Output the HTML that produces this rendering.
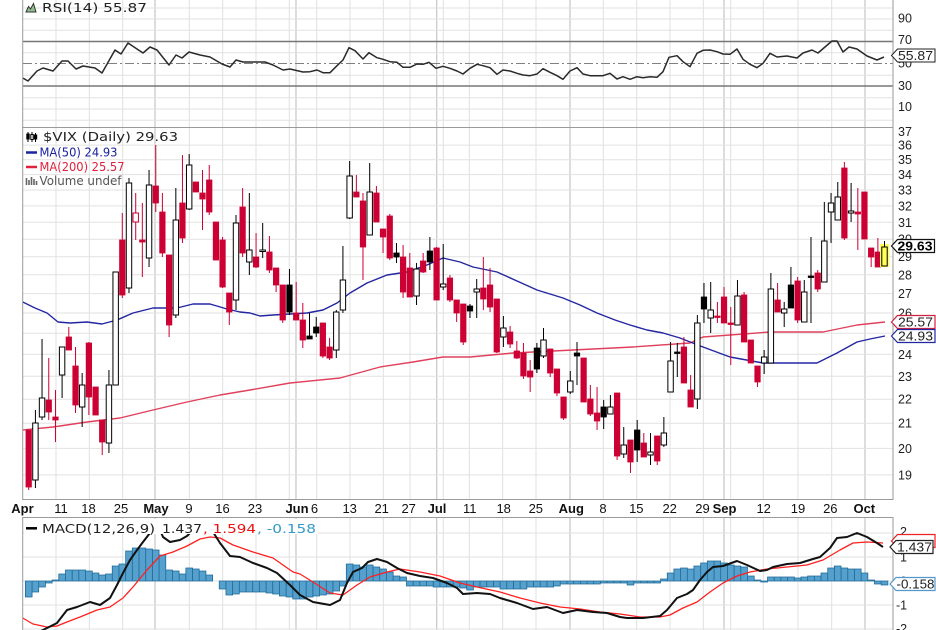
<!DOCTYPE html>
<html><head><meta charset="utf-8"><style>
html,body{margin:0;padding:0;background:#fff;}
svg{display:block;font-family:"Liberation Sans",Arial,sans-serif;}
.lg{font-family:"DejaVu Sans","Liberation Sans",sans-serif;}
</style></head><body>
<svg width="936" height="630" viewBox="0 0 936 630" xmlns="http://www.w3.org/2000/svg">
<defs>
<clipPath id="cm"><rect x="23" y="128" width="870" height="371"/></clipPath>
<clipPath id="cd"><rect x="23" y="518" width="870" height="112"/></clipPath>
<clipPath id="cr"><rect x="23" y="0" width="870" height="127"/></clipPath>
</defs>
<rect width="936" height="630" fill="#fff"/>

<!-- vertical gridlines -->
<path d="M56 0V630M89.3 0V630M122.7 0V630M189.3 0V630M222.7 0V630M256 0V630M289.3 0V630M316.7 0V630M350 0V630M383.3 0V630M410 0V630M443.3 0V630M469.3 0V630M502.7 0V630M536 0V630M603.3 0V630M636.7 0V630M670 0V630M703.3 0V630M730.7 0V630M763.3 0V630M798 0V630M831.7 0V630" stroke="#e0e0e0" stroke-width="1" fill="none"/>
<path d="M155 0V630M296 0V630M436.7 0V630M570 0V630M724 0V630M865 0V630" stroke="#c6c6c6" stroke-width="1.2" fill="none"/>

<!-- horizontal gridlines main -->
<path d="M23 145.1H893M23 159.7H893M23 174.6H893M23 190H893M23 205.9H893M23 222.3H893M23 239.2H893M23 256.7H893M23 274.8H893M23 293.6H893M23 313H893M23 333.3H893M23 354.3H893M23 376.3H893M23 399.2H893M23 423.2H893M23 448.4H893M23 474.9H893" stroke="#e2e2e2" stroke-width="1" fill="none"/>
<path d="M23 8H893M23 19H893M23 30.25H893M23 52.75H893M23 75.25H893M23 97.75H893M23 109H893M23 120.25H893" stroke="#e2e2e2" stroke-width="1" fill="none"/>
<path d="M23 533H893M23 557H893M23 581H893M23 605H893M23 629H893" stroke="#e2e2e2" stroke-width="1" fill="none"/>

<rect x="0" y="500" width="936" height="17" fill="#fff"/>

<!-- RSI panel -->
<line x1="23" y1="41.5" x2="893" y2="41.5" stroke="#777" stroke-width="1.4"/>
<line x1="23" y1="86" x2="893" y2="86" stroke="#777" stroke-width="1.4"/>
<line x1="23" y1="63.5" x2="893" y2="63.5" stroke="#808080" stroke-width="1" stroke-dasharray="9 3 2 3"/>
<g clip-path="url(#cr)">
<polyline fill="none" stroke="#2a2a2a" stroke-width="1.5" stroke-linejoin="round" points="22.7,78 28,81 37,71 43,68 53,71 62,61 68,61 76,69 83,66 95,68 102,73 115,50 121,54 128,43 143,53 150,47 157,50 169,65 176,55 182,58 189,52 200,55 210,57 222,64 230,67 236,60 243,62 265,62 273,65 283,70 290,69 303,72 310,71.7 317,70 323,72.7 330,72.7 337,65.7 343,60 349,47.7 355,50.7 363,59 369,52.7 377,57.7 383,59.3 390,61.7 397,62.3 403,67.3 410,67.3 417,64 423,64.3 429,62.3 436,68.3 443,66.3 450,68.3 457,71 463,74 470,68.3 477,64.3 483,65.7 490,67.7 497,74.3 503,70 510,71 517,73.3 523,75 530,75.7 537,74 543,68.7 550,72.3 557,75.7 563,79.3 570,71 577,67.7 583,74 590,75.7 603,75.7 610,73.3 617,79 623,76.7 630,79.3 637,76.7 643,77.7 650,76.7 657,77.3 663,71.7 669,57.3 677,55.7 683,61.7 690,66.7 697,53.3 703,50.3 710,50 717,51.7 723,54 730,54.3 737,49 743,59.3 750,64.3 757,67.7 763,63.3 770,53.3 777,57 787,56 797,58 803,53 812,50 818,53 825,47 832,41 837,41 843,52 849,47 857,49 867,56 877,60 884,57"/>
</g>

<!-- panel borders -->
<g fill="none" stroke="#9a9a9a" stroke-width="1">
<rect x="22.7" y="-1" width="870.3" height="128.5"/>
<rect x="22.7" y="127.5" width="870.3" height="372"/>
<rect x="22.7" y="517.5" width="870.3" height="114"/>
</g>

<!-- MA lines -->
<g clip-path="url(#cm)" fill="none" stroke-linejoin="round">
<polyline stroke="#e0405c" stroke-width="1.4" points="22.7,430 53,427 87,422 120,418 153,410 187,402 220,395 250,390 290,383 340,378 380,367 413,362 443,357 470,357 513,353 573,350 633,347 690,343 703,337 770,332 823,332 857,325 885,322"/>
<polyline stroke="#2226a0" stroke-width="1.4" points="22.7,302 35,308 47,313 58,322 70,323 87,322 102,324 117,320 133,313 153,308 177,308 193,304 210,304 227,309 240,312 250,313 260,316 273,315 290,314 307,313 323,310 337,303 350,293 367,283 387,275 407,272 427,265 443,258 460,262 473,267 497,272 517,281 537,290 563,298 580,305 597,313 615,320 630,325 647,330 663,333 680,338 703,347 730,357 763,363 790,363 817,363 837,353 857,342 870,339 885,336"/>
</g>

<!-- Candles -->
<g clip-path="url(#cm)">
<g transform="matrix(1.00293 0 0 1 -0.084 0)">
<path fill="none" stroke="#cc0033" stroke-width="1" d="M28.7 430V490M48.7 358V420M55.4 390V442M68.7 327V350M75.4 347V413M88.7 342V415M95.4 387V415M102 420V455M122 213V298M135.4 193V240M142 203V277M155.4 145V212M162 193V257M168.7 255V337M182 155V243M195.4 182V192M202 170V230M208.7 165V215M215.4 222V260M222 237V288M228.7 293V325M242 188V257M255.4 233V268M268.7 236V273M275.4 268V292M282 285V323M295.4 282V320M302 303V348M322 323V358M328.7 338V360M355.4 175V197M362 193V280M375.4 186V222M382 229V253M388.7 214V260M402 245V298M408.7 253V297M422 253V273M435.4 247V300M448.7 275V302M455.4 300V322M462 304V345M482 257V310M488.7 268V312M495.4 299V353M508.7 326V348M515.4 341V359M522 343V379M528.7 360V392M548.7 349V377M555.4 369V396M562 397V420M582 358V402M588.7 385V416M595.4 387V430M615.4 393V460M628.7 440V473M642 433V457M655.4 436V465M682 337V383M688.7 375V407M715.4 302V323M722 287V323M728.7 307V365M742 292V342M748.7 340V363M755.4 366V387M775.4 283V312M795.4 277V323M815.4 270V292M842 162V240M855.4 188V250M862 192V239M868.7 248V267M875.4 238V267"/>
<path fill="none" stroke="#000" stroke-width="1" d="M35.4 410V488M42 339V420M62 347V398M82 373V427M108.7 370V453M115.4 272V385M128.7 178V293M148.7 170V267M175.4 188V318M188.7 154V210M235.4 215V310M248.7 193V275M262 223V258M288.7 269V315M308.7 313V339M315.4 317V337M335.4 310V358M342 246V313M348.7 161V219M368.7 163V235M395.4 243V263M415.4 263V305M428.7 237V270M442 244V290M468.7 304V318M475.4 279V318M502 316V347M535.4 343V373M542 328V358M568.7 371V394M575.4 342V385M602 400V429M608.7 395V414M622 427V458M635.4 420V462M648.7 433V465M662 417V447M668.7 342V392M675.4 343V377M695.4 315V409M702 283V323M708.7 282V333M735.4 280V325M762 350V374M768.7 273V363M782 302V327M788.7 267V308M802 280V322M808.7 237V323M822 202V282M828.7 193V243M835.4 182V220M848.7 183V222"/>
<g fill="#cc0033" stroke="#cc0033" stroke-width="0.8">
<rect x="26" y="430" width="5.4" height="57"/>
<rect x="46" y="400" width="5.4" height="12"/>
<rect x="52.7" y="417" width="5.4" height="3"/>
<rect x="66" y="337" width="5.4" height="13"/>
<rect x="72.7" y="366" width="5.4" height="39"/>
<rect x="86" y="343" width="5.4" height="54"/>
<rect x="92.7" y="387" width="5.4" height="28"/>
<rect x="99.3" y="420" width="5.4" height="22"/>
<rect x="119.3" y="240" width="5.4" height="55"/>
<rect x="139.3" y="240" width="5.4" height="2"/>
<rect x="152.7" y="186" width="5.4" height="17"/>
<rect x="159.3" y="212" width="5.4" height="41"/>
<rect x="166" y="255" width="5.4" height="70"/>
<rect x="179.3" y="203" width="5.4" height="35"/>
<rect x="192.7" y="182" width="5.4" height="10"/>
<rect x="199.3" y="193" width="5.4" height="6"/>
<rect x="206" y="180" width="5.4" height="32"/>
<rect x="212.7" y="222" width="5.4" height="38"/>
<rect x="219.3" y="240" width="5.4" height="47"/>
<rect x="226" y="293" width="5.4" height="19"/>
<rect x="239.3" y="207" width="5.4" height="46"/>
<rect x="252.7" y="257" width="5.4" height="10"/>
<rect x="266" y="252" width="5.4" height="18"/>
<rect x="272.7" y="268" width="5.4" height="17"/>
<rect x="279.3" y="285" width="5.4" height="35"/>
<rect x="292.7" y="313" width="5.4" height="7"/>
<rect x="299.3" y="320" width="5.4" height="20"/>
<rect x="319.3" y="323" width="5.4" height="33"/>
<rect x="326" y="347" width="5.4" height="11"/>
<rect x="352.7" y="192" width="5.4" height="5"/>
<rect x="359.3" y="201" width="5.4" height="46"/>
<rect x="372.7" y="193" width="5.4" height="29"/>
<rect x="379.3" y="229" width="5.4" height="8"/>
<rect x="386" y="216" width="5.4" height="42"/>
<rect x="399.3" y="257" width="5.4" height="35"/>
<rect x="406" y="268" width="5.4" height="29"/>
<rect x="419.3" y="261" width="5.4" height="11"/>
<rect x="432.7" y="248" width="5.4" height="52"/>
<rect x="446" y="278" width="5.4" height="22"/>
<rect x="452.7" y="300" width="5.4" height="13"/>
<rect x="459.3" y="304" width="5.4" height="38"/>
<rect x="479.3" y="288" width="5.4" height="11"/>
<rect x="486" y="285" width="5.4" height="22"/>
<rect x="492.7" y="299" width="5.4" height="53"/>
<rect x="506" y="332" width="5.4" height="12"/>
<rect x="512.7" y="351" width="5.4" height="7"/>
<rect x="519.3" y="353" width="5.4" height="23"/>
<rect x="526" y="371" width="5.4" height="6"/>
<rect x="546" y="349" width="5.4" height="24"/>
<rect x="552.7" y="369" width="5.4" height="24"/>
<rect x="559.3" y="397" width="5.4" height="21"/>
<rect x="579.3" y="358" width="5.4" height="44"/>
<rect x="586" y="399" width="5.4" height="15"/>
<rect x="592.7" y="413" width="5.4" height="8"/>
<rect x="612.7" y="393" width="5.4" height="63"/>
<rect x="626" y="440" width="5.4" height="22"/>
<rect x="639.3" y="443" width="5.4" height="14"/>
<rect x="652.7" y="436" width="5.4" height="25"/>
<rect x="679.3" y="347" width="5.4" height="36"/>
<rect x="686" y="390" width="5.4" height="17"/>
<rect x="712.7" y="316" width="5.4" height="1.5"/>
<rect x="719.3" y="297" width="5.4" height="26"/>
<rect x="726" y="323" width="5.4" height="1.5"/>
<rect x="739.3" y="295" width="5.4" height="47"/>
<rect x="746" y="340" width="5.4" height="23"/>
<rect x="752.7" y="366" width="5.4" height="16"/>
<rect x="772.7" y="300" width="5.4" height="12"/>
<rect x="792.7" y="281" width="5.4" height="39"/>
<rect x="812.7" y="273" width="5.4" height="16"/>
<rect x="839.3" y="168" width="5.4" height="70"/>
<rect x="852.7" y="212" width="5.4" height="2"/>
<rect x="859.3" y="192" width="5.4" height="47"/>
<rect x="866" y="248" width="5.4" height="9"/>
<rect x="872.7" y="252" width="5.4" height="15"/>
</g>
<rect x="132.7" y="213" width="5.4" height="9" fill="#fff" stroke="#cc0033" stroke-width="1"/>
<g fill="#000" stroke="#000" stroke-width="0.8">
<rect x="286" y="285" width="5.4" height="27"/>
<rect x="306" y="336" width="5.4" height="3"/>
<rect x="312.7" y="327" width="5.4" height="6"/>
<rect x="392.7" y="253" width="5.4" height="4"/>
<rect x="426" y="251" width="5.4" height="11"/>
<rect x="466" y="306" width="5.4" height="5"/>
<rect x="532.7" y="348" width="5.4" height="21"/>
<rect x="572.7" y="353" width="5.4" height="3"/>
<rect x="599.3" y="407" width="5.4" height="10"/>
<rect x="632.7" y="430" width="5.4" height="20"/>
<rect x="672.7" y="352" width="5.4" height="1.5"/>
<rect x="699.3" y="297" width="5.4" height="12"/>
<rect x="786" y="285" width="5.4" height="23"/>
<rect x="806" y="276" width="5.4" height="1.5"/>
</g>
<g fill="#fff" stroke="#000" stroke-width="1">
<rect x="32.7" y="423" width="5.4" height="57"/>
<rect x="39.3" y="398" width="5.4" height="19"/>
<rect x="59.3" y="347" width="5.4" height="28"/>
<rect x="79.3" y="385" width="5.4" height="22"/>
<rect x="106" y="385" width="5.4" height="58"/>
<rect x="112.7" y="272" width="5.4" height="113"/>
<rect x="126" y="183" width="5.4" height="105"/>
<rect x="146" y="185" width="5.4" height="73"/>
<rect x="172.7" y="220" width="5.4" height="95"/>
<rect x="186" y="165" width="5.4" height="44"/>
<rect x="232.7" y="223" width="5.4" height="77"/>
<rect x="246" y="250" width="5.4" height="12"/>
<rect x="259.3" y="250" width="5.4" height="1.5"/>
<rect x="332.7" y="312" width="5.4" height="38"/>
<rect x="339.3" y="280" width="5.4" height="30"/>
<rect x="346" y="176" width="5.4" height="42"/>
<rect x="366" y="192" width="5.4" height="43"/>
<rect x="412.7" y="269" width="5.4" height="27"/>
<rect x="439.3" y="284" width="5.4" height="3"/>
<rect x="472.7" y="289" width="5.4" height="3"/>
<rect x="499.3" y="328" width="5.4" height="9"/>
<rect x="539.3" y="340" width="5.4" height="16"/>
<rect x="566" y="381" width="5.4" height="11"/>
<rect x="606" y="407" width="5.4" height="7"/>
<rect x="619.3" y="445" width="5.4" height="9"/>
<rect x="646" y="452" width="5.4" height="3"/>
<rect x="659.3" y="433" width="5.4" height="12"/>
<rect x="666" y="361" width="5.4" height="31"/>
<rect x="692.7" y="323" width="5.4" height="76"/>
<rect x="706" y="310" width="5.4" height="8"/>
<rect x="732.7" y="296" width="5.4" height="29"/>
<rect x="759.3" y="357" width="5.4" height="6"/>
<rect x="766" y="289" width="5.4" height="74"/>
<rect x="779.3" y="309" width="5.4" height="4"/>
<rect x="799.3" y="292" width="5.4" height="30"/>
<rect x="819.3" y="241" width="5.4" height="41"/>
<rect x="826" y="203" width="5.4" height="9"/>
<rect x="832.7" y="197" width="5.4" height="23"/>
<rect x="846" y="211" width="5.4" height="2"/>
</g>
<rect x="877.5" y="244" width="9" height="23" fill="#ffff55"/>
<line x1="882" y1="241" x2="882" y2="247" stroke="#000" stroke-width="1"/>
<rect x="879.3" y="247" width="5.4" height="19" fill="#ffff55" stroke="#000" stroke-width="1"/>
</g>
</g>

<!-- MACD panel -->
<g clip-path="url(#cd)">
<g transform="matrix(1.00293 0 0 1 -0.084 0)">
<path fill="#55a0cc" stroke="#1f6a99" stroke-width="0.8" d="M25.4 581v16h6.67v-16zM32 581v11h6.67v-11zM38.7 581v6h6.67v-6zM45.4 581v2h6.67v-2zM52 581v-1h6.67v1zM58.7 581v-7h6.67v7zM65.4 581v-11h6.67v11zM72 581v-11h6.67v11zM78.7 581v-11h6.67v11zM85.4 581v-10h6.67v10zM92 581v-8h6.67v8zM98.7 581v-6h6.67v6zM105.4 581v-7h6.67v7zM112 581v-15h6.67v15zM118.7 581v-17h6.67v17zM125.4 581v-30h6.67v30zM132 581v-33h6.67v33zM138.7 581v-33h6.67v33zM145.4 581v-32h6.67v32zM152 581v-31h6.67v31zM158.7 581v-26h6.67v26zM165.4 581v-11h6.67v11zM172 581v-10h6.67v10zM178.7 581v-7h6.67v7zM185.4 581v-13h6.67v13zM192 581v-12h6.67v12zM198.7 581v-10h6.67v10zM205.4 581v-6h6.67v6zM218.7 581v8h6.67v-8zM225.4 581v14h6.67v-14zM232 581v13h6.67v-13zM238.7 581v11h6.67v-11zM245.4 581v11h6.67v-11zM252 581v11h6.67v-11zM258.7 581v11h6.67v-11zM265.4 581v12h6.67v-12zM272 581v13h6.67v-13zM278.7 581v15h6.67v-15zM285.4 581v16h6.67v-16zM292 581v18h6.67v-18zM298.7 581v18h6.67v-18zM305.4 581v16h6.67v-16zM312 581v15h6.67v-15zM318.7 581v14h6.67v-14zM325.4 581v13h6.67v-13zM332 581v10h6.67v-10zM338.7 581v5h6.67v-5zM345.4 581v-17h6.67v17zM352 581v-16h6.67v16zM358.7 581v-14h6.67v14zM365.4 581v-16h6.67v16zM372 581v-14h6.67v14zM378.7 581v-12h6.67v12zM385.4 581v-9h6.67v9zM392 581v-5h6.67v5zM398.7 581v-4h6.67v4zM405.4 581v5h6.67v-5zM412 581v5h6.67v-5zM418.7 581v5h6.67v-5zM425.4 581v5h6.67v-5zM432 581v6h6.67v-6zM438.7 581v6h6.67v-6zM445.4 581v6h6.67v-6zM452 581v6h6.67v-6zM458.7 581v7h6.67v-7zM465.4 581v9h6.67v-9zM472 581v6h6.67v-6zM478.7 581v6h6.67v-6zM485.4 581v6h6.67v-6zM492 581v6h6.67v-6zM498.7 581v8h6.67v-8zM505.4 581v8h6.67v-8zM512 581v8h6.67v-8zM518.7 581v8h6.67v-8zM525.4 581v6h6.67v-6zM532 581v6h6.67v-6zM538.7 581v6h6.67v-6zM545.4 581v6h6.67v-6zM552 581v5h6.67v-5zM558.7 581v3h6.67v-3zM565.4 581v3h6.67v-3zM572 581v3h6.67v-3zM578.7 581v3h6.67v-3zM585.4 581v3h6.67v-3zM592 581v3h6.67v-3zM598.7 581v2h6.67v-2zM605.4 581v2h6.67v-2zM612 581v2h6.67v-2zM618.7 581v2h6.67v-2zM625.4 581v4h6.67v-4zM632 581v2h6.67v-2zM638.7 581v2h6.67v-2zM645.4 581v2h6.67v-2zM652 581v2h6.67v-2zM658.7 581v-2h6.67v2zM665.4 581v-8h6.67v8zM672 581v-12h6.67v12zM678.7 581v-13h6.67v13zM685.4 581v-12h6.67v12zM692 581v-15h6.67v15zM698.7 581v-18h6.67v18zM705.4 581v-20h6.67v20zM712 581v-20h6.67v20zM718.7 581v-18h6.67v18zM725.4 581v-16h6.67v16zM732 581v-15h6.67v15zM738.7 581v-14h6.67v14zM745.4 581v-5h6.67v5zM752 581v-1h6.67v1zM758.7 581v1h6.67v-1zM765.4 581v-4h6.67v4zM772 581v-4h6.67v4zM778.7 581v-4h6.67v4zM785.4 581v-4h6.67v4zM792 581v-3h6.67v3zM798.7 581v-4h6.67v4zM805.4 581v-5h6.67v5zM812 581v-5h6.67v5zM818.7 581v-8h6.67v8zM825.4 581v-13h6.67v13zM832 581v-15h6.67v15zM838.7 581v-13h6.67v13zM845.4 581v-12h6.67v12zM852 581v-12h6.67v12zM858.7 581v-8h6.67v8zM865.4 581v-1h6.67v1zM872 581v3h6.67v-3zM878.7 581v4h6.67v-4z"/>
</g>
<polyline fill="none" stroke="#ff2020" stroke-width="1.3" stroke-linejoin="round" points="22.7,618 33,624 47,627 57,626 67,622 80,617 97,610 110,607 123,598 133,587 147,570 160,556 173,552 187,546 200,539 210,537 220,538 233,545 253,552 273,558 293,572 300,574 313,582 330,593 343,595 357,585 370,577 387,572 400,569 420,572 440,576 460,583 477,587 500,592 520,598 540,603 560,607 580,609 600,612 620,614 640,617 660,617 670,615 683,608 697,602 710,592 723,583 737,576 750,572 767,569 787,567 807,565 823,560 840,550 853,543 867,542 883,543"/>
<polyline fill="none" stroke="#111" stroke-width="2" stroke-linejoin="round" points="36,633 43,630 57,623 67,610 77,607 90,602 100,605 110,598 117,585 123,573 130,560 137,550 143,542 150,533 155,525 160,530 163,537 170,542 180,540 187,536 195,528 205,527 213,532 220,543 230,556 240,557 253,563 267,568 277,573 290,585 300,595 313,602 330,605 340,600 347,583 353,572 362,568 368,562 377,559 387,562 397,568 407,573 420,576 433,578 447,583 457,588 463,594 477,593 490,594 500,598 517,603 533,609 547,607 563,613 577,610 593,612 607,613 620,617 627,618 643,618 660,616 667,610 677,598 687,594 693,590 700,580 707,572 713,567 723,566 737,561 747,565 760,571 767,570 773,567 787,564 800,563 813,559 820,557 830,548 837,538 847,537 857,533 867,537 877,543 883,547"/>
</g>

<!-- legends -->
<path d="M26 12L28.5 6.5L30.5 9L33.5 3.5L36 12Z" fill="#8fbf8f" stroke="#333" stroke-width="1"/>
<text class="lg" x="42" y="12" font-size="12.5" fill="#222" textLength="105" lengthAdjust="spacingAndGlyphs">RSI(14) 55.87</text>

<g stroke="#000" stroke-width="1">
<line x1="28" y1="132" x2="28" y2="142"/><rect x="26.8" y="134" width="2.4" height="5" fill="#000"/>
<line x1="32" y1="132" x2="32" y2="142"/><rect x="30.8" y="134.5" width="2.4" height="5" fill="#fff"/>
<line x1="35.5" y1="133" x2="35.5" y2="142"/><rect x="34.3" y="135" width="2.4" height="4" fill="#000"/>
</g>
<text class="lg" x="43" y="141" font-size="12.5" fill="#222" textLength="135" lengthAdjust="spacingAndGlyphs">$VIX (Daily) 29.63</text>
<line x1="26" y1="152.5" x2="37" y2="152.5" stroke="#1a22a0" stroke-width="2.5"/>
<text class="lg" x="39.5" y="156.5" font-size="12.5" fill="#1a22a0" textLength="78" lengthAdjust="spacingAndGlyphs">MA(50) 24.93</text>
<line x1="26" y1="167" x2="37" y2="167" stroke="#e0203c" stroke-width="2.5"/>
<text class="lg" x="39.5" y="171" font-size="12.5" fill="#e0203c" textLength="85" lengthAdjust="spacingAndGlyphs">MA(200) 25.57</text>
<path d="M26.5 178v7M29 180v5M31.5 177v8M34 179v6M36.5 181v4" stroke="#666" stroke-width="1.6"/>
<text class="lg" x="39.5" y="185" font-size="12.5" fill="#555" textLength="82" lengthAdjust="spacingAndGlyphs">Volume undef</text>

<rect x="24" y="519" width="294" height="15" fill="#fff"/>
<line x1="26" y1="528.3" x2="37" y2="528.3" stroke="#000" stroke-width="2.5"/>
<text class="lg" y="533" font-size="12.5"><tspan x="42" fill="#222" textLength="113" lengthAdjust="spacingAndGlyphs">MACD(12,26,9)</tspan><tspan x="162" fill="#222" textLength="40" lengthAdjust="spacingAndGlyphs">1.437</tspan><tspan x="203" fill="#ee1111" textLength="53" lengthAdjust="spacingAndGlyphs">, 1.594</tspan><tspan x="257" fill="#3399cc" textLength="59" lengthAdjust="spacingAndGlyphs">, -0.158</tspan></text>

<!-- right axis labels -->
<g font-size="12.5" fill="#222">
<text x="898" y="22.7">90</text>
<text x="898" y="44">70</text>
<text x="898" y="67.5">50</text>
<text x="898" y="90">30</text>
<text x="898" y="111">10</text>
<text x="898" y="136">37</text>
<text x="898" y="149.6">36</text>
<text x="898" y="164.2">35</text>
<text x="898" y="179.1">34</text>
<text x="898" y="194.5">33</text>
<text x="898" y="210.4">32</text>
<text x="898" y="226.8">31</text>
<text x="898" y="243.7">30</text>
<text x="898" y="261.2">29</text>
<text x="898" y="279.3">28</text>
<text x="898" y="298.1">27</text>
<text x="898" y="317.5">26</text>
<text x="898" y="337.8">25</text>
<text x="898" y="358.8">24</text>
<text x="898" y="380.8">23</text>
<text x="898" y="403.7">22</text>
<text x="898" y="427.7">21</text>
<text x="898" y="452.9">20</text>
<text x="898" y="479.4">19</text>
<text x="900" y="536">2</text>
<text x="900" y="561.5">1</text>
<text x="900" y="585.5">0</text>
<text x="896" y="609.5">-1</text>
<text x="896" y="633">-2</text>
</g>

<!-- value tags -->
<g font-size="13">
<path d="M891.5 55.5L897.5 49H935V62H897.5Z" fill="#fff" stroke="#222" stroke-width="1"/>
<text x="898" y="60" fill="#222" textLength="35" lengthAdjust="spacingAndGlyphs">55.87</text>
<path d="M891.5 246L897.5 239.5H934.5V252.5H897.5Z" fill="#fff" stroke="#111" stroke-width="1.2"/>
<text x="897.5" y="250.7" fill="#000" font-weight="bold" textLength="35" lengthAdjust="spacingAndGlyphs">29.63</text>
<path d="M891.5 322L897.5 315.5H935V328.5H897.5Z" fill="#fff" stroke="#d42040" stroke-width="1.2"/>
<text x="898" y="326.5" fill="#222" textLength="35" lengthAdjust="spacingAndGlyphs">25.57</text>
<path d="M891.5 336L897.5 329.5H935V342.5H897.5Z" fill="#fff" stroke="#2028a0" stroke-width="1.2"/>
<text x="898" y="340.5" fill="#222" textLength="35" lengthAdjust="spacingAndGlyphs">24.93</text>
<path d="M891.5 541L897.5 534.5H935V547.5H897.5Z" fill="#fff" stroke="#ee2020" stroke-width="1.2"/>
<path d="M890 547L896 540.5H933V553.5H896Z" fill="#fff" stroke="#222" stroke-width="1.2"/>
<text x="897" y="551.5" fill="#222" textLength="35" lengthAdjust="spacingAndGlyphs">1.437</text>
<path d="M890 584L896 577.5H935V590.5H896Z" fill="#fff" stroke="#5599cc" stroke-width="1.2"/>
<text x="896.5" y="588.5" fill="#222" textLength="38" lengthAdjust="spacingAndGlyphs">-0.158</text>
</g>

<!-- x-axis labels -->
<g font-size="13" fill="#111" text-anchor="middle">
<text x="22.5" y="513" font-weight="bold">Apr</text>
<text x="61" y="513">11</text>
<text x="88.5" y="513">18</text>
<text x="121" y="513">25</text>
<text x="156" y="513" font-weight="bold">May</text>
<text x="189" y="513">9</text>
<text x="222.5" y="513">16</text>
<text x="255" y="513">23</text>
<text x="297" y="513" font-weight="bold">Jun</text>
<text x="314.5" y="513">6</text>
<text x="349.7" y="513">13</text>
<text x="381.7" y="513">21</text>
<text x="408.7" y="513">27</text>
<text x="437" y="513" font-weight="bold">Jul</text>
<text x="469.7" y="513">11</text>
<text x="503.7" y="513">18</text>
<text x="535.8" y="513">25</text>
<text x="571.3" y="513" font-weight="bold">Aug</text>
<text x="603" y="513">8</text>
<text x="636.3" y="513">15</text>
<text x="669.7" y="513">22</text>
<text x="702.5" y="513">29</text>
<text x="724.5" y="513" font-weight="bold">Sep</text>
<text x="763.7" y="513">12</text>
<text x="798" y="513">19</text>
<text x="830.3" y="513">26</text>
<text x="864.3" y="513" font-weight="bold">Oct</text>
</g>
</svg>
</body></html>
